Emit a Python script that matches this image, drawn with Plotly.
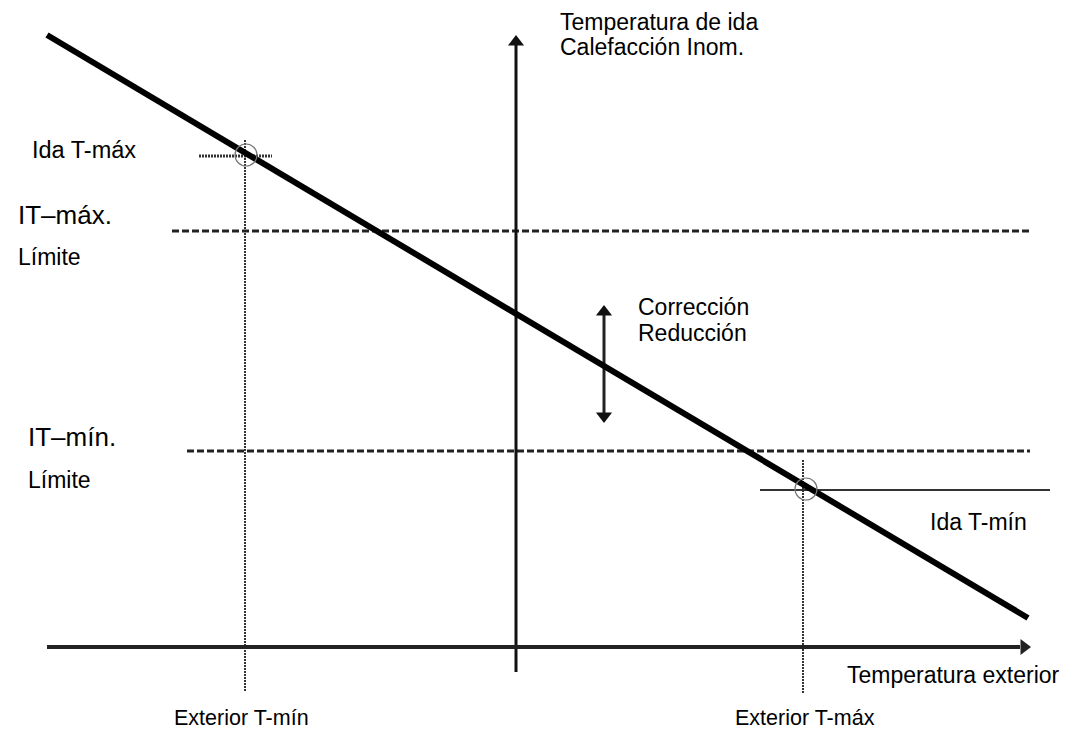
import plotly.graph_objects as go

# Schematic coordinates (abstract units, y grows downward)
curve_x = [47, 1028]
curve_y = [35, 618]
yaxis_x = [516, 516]
yaxis_y = [672, 42]
xaxis_x = [47, 1020]
xaxis_y = [647, 647]
itmax_x = [172, 1030]
itmax_y = [231, 231]
itmin_x = [187, 1030]
itmin_y = [451, 451]
vmin_x = [245, 245]
vmin_y = [140, 692]
vmax_x = [803, 803]
vmax_y = [460, 693]
hmax_x = [199, 272]
hmax_y = [156, 156]
hmin_x = [760, 1050]
hmin_y = [490, 490]
circ_x = [246, 806]
circ_y = [155, 489]
corr_x = [604, 604]
corr_y = [312, 416]

labels = [
    ("Temperatura de ida", 558, 22, 23),
    ("Calefacción Inom.", 558, 47, 23),
    ("Ida T-máx", 30, 150, 23.5),
    ("IT–máx.", 16, 215, 26),
    ("Límite", 16, 257, 23),
    ("Corrección", 636, 307, 23),
    ("Reducción", 636, 333, 23),
    ("IT–mín.", 26, 437, 26),
    ("Límite", 26, 480, 23),
    ("Ida T-mín", 928, 522, 23),
    ("Temperatura exterior", 845, 675, 23),
    ("Exterior T-mín", 172, 718, 21.5),
    ("Exterior T-máx", 733, 718, 21.5),
]

fig = go.Figure()

def line(x, y, width=2, dash="solid", color="#111"):
    fig.add_trace(go.Scatter(x=x, y=y, mode="lines", line=dict(color=color, width=width, dash=dash),
                             hoverinfo="skip", showlegend=False))

line(vmin_x, vmin_y, 2, "2px,1px", "#333")
line(vmax_x, vmax_y, 2, "2px,1px", "#333")
line(itmax_x, itmax_y, 3, "7px,3px", "#222")
line(itmin_x, itmin_y, 3, "7px,3px", "#222")
line(hmax_x, hmax_y, 3, "2px,1px", "#333")
line(hmin_x, hmin_y, 2, "solid", "#333")
line(yaxis_x, yaxis_y, 3, "solid", "#111")
line(xaxis_x, xaxis_y, 4, "solid", "#222")
line(corr_x, corr_y, 3, "solid", "#222")
line(curve_x, curve_y, 6, "solid", "#000")

fig.add_trace(go.Scatter(x=circ_x, y=circ_y, mode="markers",
                         marker=dict(symbol="circle-open", size=22, color="#777", line=dict(width=1.2)),
                         hoverinfo="skip", showlegend=False))
# arrow heads
fig.add_trace(go.Scatter(x=[yaxis_x[1], corr_x[0]], y=[yaxis_y[1], corr_y[0]], mode="markers",
                         marker=dict(symbol="triangle-up", size=14, color="#111"),
                         hoverinfo="skip", showlegend=False))
fig.add_trace(go.Scatter(x=[corr_x[1]], y=[corr_y[1]], mode="markers",
                         marker=dict(symbol="triangle-down", size=14, color="#111"),
                         hoverinfo="skip", showlegend=False))
fig.add_trace(go.Scatter(x=[xaxis_x[1] + 4], y=[xaxis_y[1]], mode="markers",
                         marker=dict(symbol="triangle-right", size=14, color="#222"),
                         hoverinfo="skip", showlegend=False))

for text, x, y, s in labels:
    fig.add_annotation(x=x, y=y, text=text, showarrow=False, xanchor="left", yanchor="middle",
                       font=dict(family="Liberation Sans, Arial", size=s, color="#000"))

# ranges shifted by the page's 8px body margin so marks land at the reference pixels
fig.update_layout(width=1071, height=729, margin=dict(l=0, r=0, t=0, b=0),
                  paper_bgcolor="white", plot_bgcolor="white",
                  xaxis=dict(range=[8, 1079], visible=False, fixedrange=True),
                  yaxis=dict(range=[737, 8], visible=False, fixedrange=True))
fig.write_html("out.html")
